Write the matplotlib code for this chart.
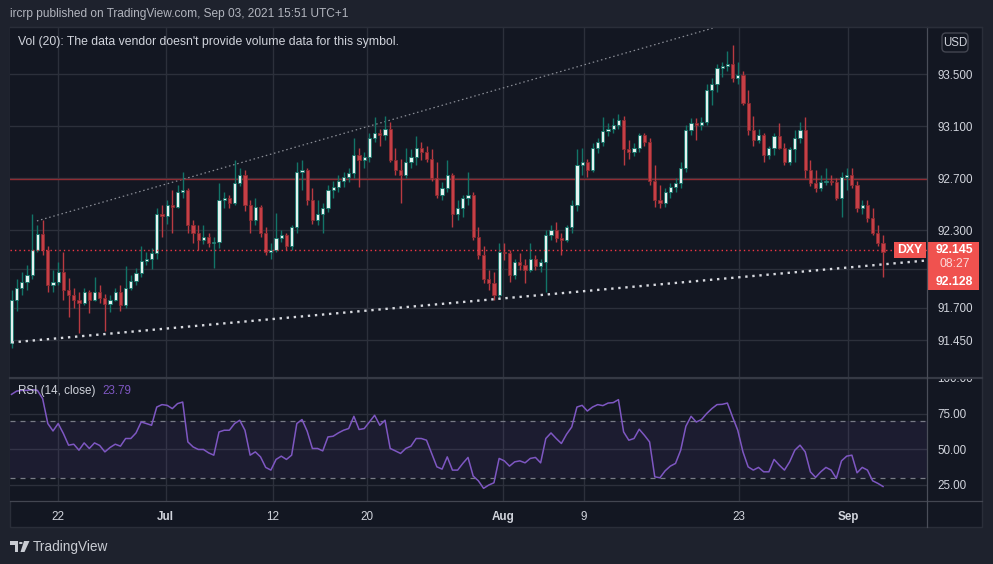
import matplotlib
matplotlib.use("Agg")
import matplotlib.pyplot as plt
import matplotlib.transforms as mtrans
from matplotlib.patches import Rectangle, FancyBboxPatch, Polygon, Circle
from matplotlib.lines import Line2D
import numpy as np

plt.rcParams['font.family'] = ['Liberation Sans', 'DejaVu Sans']

# ---------------- data (DXY, 8h-ish candles, Jun 17 - Sep 3 2021) ----------------
opens = [91.43, 91.76, 91.85, 91.90, 91.95, 92.15, 92.27, 92.15, 91.88, 91.90,
         91.98, 91.84, 91.80, 91.76, 91.74, 91.82, 91.76, 91.82, 91.78, 91.73,
         91.76, 91.82, 91.72, 91.85, 91.91, 91.97, 92.06, 92.08, 92.12, 92.42,
         92.41, 92.49, 92.48, 92.59, 92.61, 92.34, 92.28, 92.22, 92.25, 92.20,
         92.21, 92.53, 92.55, 92.51, 92.66, 92.72, 92.49, 92.38, 92.48, 92.28,
         92.13, 92.15, 92.24, 92.26, 92.18, 92.32, 92.75, 92.76, 92.53, 92.38,
         92.42, 92.47, 92.61, 92.63, 92.68, 92.71, 92.74, 92.88, 92.84, 92.86,
         93.01, 93.05, 93.03, 93.08, 92.84, 92.76, 92.72, 92.82, 92.86, 92.93,
         92.90, 92.85, 92.70, 92.57, 92.62, 92.72, 92.42, 92.47, 92.55, 92.57,
         92.25, 92.11, 91.92, 91.89, 91.80, 92.13, 92.12, 91.95, 92.05, 92.03,
         91.99, 92.08, 92.02, 92.05, 92.26, 92.30, 92.24, 92.22, 92.32, 92.49,
         92.80, 92.82, 92.76, 92.93, 92.98, 93.06, 93.08, 93.11, 93.15, 92.92,
         92.90, 92.93, 93.03, 92.98, 92.68, 92.53, 92.51, 92.59, 92.63, 92.66,
         92.78, 93.07, 93.12, 93.11, 93.13, 93.38, 93.42, 93.55, 93.56, 93.58,
         93.47, 93.49, 93.28, 93.07, 92.99, 93.03, 92.88, 92.93, 93.02, 92.93,
         92.82, 92.92, 93.01, 93.07, 92.76, 92.66, 92.62, 92.67, 92.68, 92.67,
         92.55, 92.71, 92.72, 92.65, 92.47, 92.49, 92.39, 92.28, 92.20]
highs = [91.84, 91.92, 91.98, 92.03, 92.42, 92.34, 92.38, 92.18, 91.99, 92.05,
         92.13, 91.93, 91.85, 91.82, 91.85, 91.84, 91.94, 91.88, 91.81, 91.80,
         91.85, 91.88, 92.02, 91.95, 92.01, 92.18, 92.13, 92.16, 92.47, 92.49,
         92.53, 92.61, 92.65, 92.75, 92.62, 92.38, 92.34, 92.34, 92.28, 92.25,
         92.66, 92.59, 92.57, 92.84, 92.78, 92.76, 92.53, 92.55, 92.49, 92.32,
         92.20, 92.43, 92.30, 92.28, 92.34, 92.82, 92.84, 92.78, 92.62, 92.53,
         92.51, 92.65, 92.68, 92.72, 92.75, 92.78, 93.01, 92.93, 92.90, 93.05,
         93.17, 93.08, 93.18, 93.13, 92.93, 92.85, 92.93, 92.92, 93.02, 92.98,
         92.95, 92.92, 92.82, 92.67, 92.84, 92.74, 92.53, 92.57, 92.75, 92.59,
         92.32, 92.18, 91.99, 91.98, 92.20, 92.20, 92.15, 92.08, 92.12, 92.08,
         92.20, 92.11, 92.08, 92.30, 92.34, 92.36, 92.28, 92.34, 92.53, 92.92,
         92.93, 92.85, 92.97, 93.01, 93.17, 93.12, 93.16, 93.19, 93.18, 92.99,
         92.97, 93.05, 93.05, 93.01, 92.80, 92.65, 92.62, 92.66, 92.70, 92.82,
         93.11, 93.16, 93.16, 93.17, 93.42, 93.47, 93.58, 93.59, 93.68, 93.72,
         93.59, 93.52, 93.38, 93.18, 93.08, 93.05, 92.95, 93.05, 93.12, 92.97,
         92.94, 93.07, 93.13, 93.17, 92.84, 92.76, 92.72, 92.78, 92.72, 92.70,
         92.75, 92.78, 92.78, 92.68, 92.53, 92.53, 92.47, 92.34, 92.26]
lows = [91.39, 91.68, 91.80, 91.84, 91.92, 92.13, 92.11, 91.82, 91.82, 91.88,
        91.76, 91.63, 91.70, 91.51, 91.72, 91.66, 91.75, 91.74, 91.52, 91.67,
        91.75, 91.68, 91.70, 91.84, 91.88, 91.94, 92.03, 92.00, 92.08, 92.25,
        92.35, 92.28, 92.47, 92.55, 92.28, 92.20, 92.15, 92.19, 92.17, 92.01,
        92.16, 92.47, 92.47, 92.49, 92.64, 92.45, 92.28, 92.34, 92.25, 92.11,
        92.08, 92.13, 92.21, 92.15, 92.15, 92.28, 92.61, 92.49, 92.35, 92.34,
        92.28, 92.44, 92.55, 92.59, 92.63, 92.67, 92.70, 92.63, 92.78, 92.82,
        92.98, 92.95, 92.99, 92.82, 92.72, 92.51, 92.70, 92.78, 92.80, 92.84,
        92.82, 92.68, 92.55, 92.53, 92.59, 92.32, 92.38, 92.40, 92.49, 92.22,
        92.08, 91.89, 91.84, 91.76, 91.78, 92.07, 91.90, 91.92, 91.99, 91.89,
        91.98, 91.99, 91.98, 91.82, 92.22, 92.21, 92.11, 92.21, 92.28, 92.45,
        92.72, 92.71, 92.75, 92.89, 92.95, 93.02, 93.05, 93.08, 92.80, 92.85,
        92.87, 92.90, 92.95, 92.65, 92.48, 92.47, 92.48, 92.55, 92.59, 92.62,
        92.75, 93.03, 92.99, 93.07, 93.11, 93.26, 93.36, 93.48, 93.52, 93.44,
        93.42, 93.26, 93.03, 92.95, 92.97, 92.82, 92.85, 92.88, 92.92, 92.80,
        92.80, 92.82, 92.97, 92.70, 92.64, 92.59, 92.60, 92.65, 92.65, 92.53,
        92.40, 92.61, 92.62, 92.44, 92.42, 92.36, 92.26, 92.18, 91.94]
closes = [91.76, 91.85, 91.90, 91.95, 92.15, 92.27, 92.15, 91.88, 91.90, 91.98,
          91.84, 91.80, 91.76, 91.74, 91.82, 91.76, 91.82, 91.78, 91.73, 91.76,
          91.82, 91.72, 91.85, 91.91, 91.97, 92.06, 92.08, 92.12, 92.42, 92.41,
          92.49, 92.48, 92.59, 92.61, 92.34, 92.28, 92.22, 92.25, 92.20, 92.21,
          92.53, 92.55, 92.51, 92.66, 92.72, 92.49, 92.38, 92.48, 92.28, 92.13,
          92.15, 92.24, 92.26, 92.18, 92.32, 92.75, 92.76, 92.53, 92.38, 92.42,
          92.47, 92.61, 92.63, 92.68, 92.71, 92.74, 92.88, 92.84, 92.86, 93.01,
          93.05, 93.03, 93.08, 92.84, 92.76, 92.72, 92.82, 92.86, 92.93, 92.90,
          92.85, 92.70, 92.57, 92.62, 92.72, 92.42, 92.47, 92.55, 92.57, 92.25,
          92.11, 91.92, 91.89, 91.80, 92.13, 92.12, 91.95, 92.05, 92.03, 91.99,
          92.08, 92.02, 92.05, 92.26, 92.30, 92.24, 92.22, 92.32, 92.49, 92.80,
          92.82, 92.76, 92.93, 92.98, 93.06, 93.08, 93.11, 93.15, 92.92, 92.90,
          92.93, 93.03, 92.98, 92.68, 92.53, 92.51, 92.59, 92.63, 92.66, 92.78,
          93.07, 93.12, 93.11, 93.13, 93.38, 93.42, 93.55, 93.56, 93.58, 93.47,
          93.49, 93.28, 93.07, 92.99, 93.03, 92.88, 92.93, 93.02, 92.93, 92.82,
          92.92, 93.01, 93.07, 92.76, 92.66, 92.62, 92.67, 92.68, 92.67, 92.55,
          92.71, 92.72, 92.65, 92.47, 92.49, 92.39, 92.28, 92.20, 92.13]
rsi = [88.5, 90.8, 91.3, 91.3, 91.8, 91.3, 85.5, 68.0, 62.8, 68.0,
       61.0, 52.8, 53.5, 49.3, 54.4, 50.5, 54.4, 52.6, 48.1, 51.2,
       53.5, 52.1, 57.5, 57.5, 61.4, 69.1, 68.0, 66.8, 79.6, 81.3,
       80.8, 78.5, 82.0, 83.1, 55.1, 51.6, 49.8, 49.8, 47.4, 45.8,
       62.1, 63.3, 63.3, 68.0, 70.3, 63.3, 45.8, 48.1, 44.6, 37.2,
       35.3, 42.8, 45.1, 42.8, 45.8, 68.0, 70.8, 62.6, 50.5, 50.5,
       48.8, 58.6, 59.1, 61.4, 63.3, 64.5, 73.1, 63.8, 64.5, 69.1,
       73.8, 66.8, 70.3, 50.5, 48.8, 47.0, 50.5, 52.1, 57.5, 57.5,
       56.3, 47.0, 37.6, 36.0, 44.6, 35.3, 35.3, 40.0, 44.2, 31.1,
       27.8, 22.5, 24.8, 26.4, 43.5, 41.8, 38.1, 41.1, 41.8, 40.4,
       43.5, 44.2, 40.4, 57.5, 61.4, 57.5, 54.0, 60.5, 65.6, 79.6,
       80.8, 76.8, 79.6, 81.3, 80.6, 82.4, 82.7, 84.8, 62.1, 56.3,
       57.5, 64.0, 59.8, 55.1, 30.6, 29.9, 34.8, 38.1, 40.0, 49.3,
       66.1, 73.1, 69.1, 70.8, 75.0, 78.5, 81.3, 81.5, 82.4, 72.6,
       63.3, 48.1, 37.6, 35.3, 37.2, 34.1, 34.1, 42.8, 38.8, 35.3,
       41.1, 49.3, 52.8, 48.1, 34.1, 30.2, 34.1, 37.2, 35.3, 29.5,
       41.8, 45.1, 45.8, 33.4, 37.2, 35.3, 27.8, 26.0, 23.79]

date_labels = ['22', 'Jul', '12', '20', 'Aug', '9', '23', 'Sep']
date_bar_pos = [8.9, 29.7, 50.4, 68.6, 94.8, 110.3, 140.2, 161.3]
month_labels = ['Jul', 'Aug', 'Sep']
price_ticks = [91.45, 91.70, 92.00, 92.30, 92.70, 93.10, 93.50]
price_tick_labels = ['91.450', '91.700', '', '92.300', '92.700', '93.100', '93.500']
rsi_ticks = [25, 50, 75, 100]
rsi_tick_labels = ['25.00', '50.00', '75.00', '100.00']

upper_trend_x = [4.9, 137.0]
upper_trend_y = [92.37, 93.874]
lower_trend_x = [0.0, 176.5]
lower_trend_y = [91.435, 92.066]
level_line = 92.692
last_price = 92.145
bid_price = 92.128
countdown = '08:27'
rsi_last = 23.79
symbol = 'DXY'

# ---------------- layout ----------------
W, H = 993, 564
BG_OUT = '#1e222d'
BG = '#131722'
GRID = '#2c303b'
TXT = '#d1d4dc'
FS = 8.4

fig = plt.figure(figsize=(W / 100, H / 100), dpi=100, facecolor=BG_OUT)


def fr(x0, y0, x1, y1):
    return [x0 / W, 1 - y1 / H, (x1 - x0) / W, (y1 - y0) / H]


def fx(x):
    return x / W


def fy(y):
    return 1 - y / H


# chart frame
fig.patches.append(Rectangle((fx(10), fy(527)), (982 - 10) / W, 500 / H,
                             transform=fig.transFigure, fc=BG, ec='#2a2e39',
                             lw=1, zorder=-5))

ax = fig.add_axes(fr(10, 27, 927, 377))
axr = fig.add_axes(fr(10, 378, 927, 501))
for a in (ax, axr):
    a.set_facecolor(BG)
    for s in a.spines.values():
        s.set_visible(False)

N = len(closes)
x = np.arange(N)
o = np.array(opens)
c = np.array(closes)
hi = np.array(highs)
lo = np.array(lows)
up = c >= o

UP_FACE, UP_EDGE = '#e3f1ef', '#127468'
DN_FACE, DN_EDGE = '#c63f46', '#8a2c32'

wick_cols = [UP_EDGE if u else '#b93a41' for u in up]
ax.vlines(x, lo, hi, colors=wick_cols, lw=1.0, zorder=3)
body_h = np.maximum(np.abs(c - o), 0.004)
ax.bar(x, body_h, bottom=np.minimum(o, c), width=0.62,
       color=[UP_FACE if u else DN_FACE for u in up],
       edgecolor=[UP_EDGE if u else DN_EDGE for u in up], linewidth=0.6, zorder=4)

# drawings
ax.plot(upper_trend_x, upper_trend_y, color='#8a8d96', lw=0.9,
        ls=(0, (1.2, 2.2)), zorder=2)
ax.plot(lower_trend_x, lower_trend_y, color='#d8dae0', lw=1.7,
        ls=(0, (1, 2)), zorder=5, solid_capstyle='butt', dash_capstyle='butt')
ax.axhline(level_line, color='#8e2c33', lw=1.0, zorder=2)
ax.axhline(last_price, color='#f23645', lw=1.0, ls=(0, (1, 2.2)), zorder=5)

ax.set_yticks(price_ticks)
ax.set_yticklabels(price_tick_labels)
ax.yaxis.tick_right()
ax.set_xticks(date_bar_pos)
ax.tick_params(axis='x', length=0, labelbottom=False)
ax.tick_params(axis='y', length=0, pad=7.5, labelcolor=TXT, labelsize=FS)
ax.grid(True, color=GRID, lw=1)
ax.set_axisbelow(True)

# RSI pane
axr.axhspan(30, 70, color='#7e57c2', alpha=0.09, lw=0, zorder=1)
axr.axhline(70, color='#787b86', lw=0.9, ls=(0, (4, 4)), zorder=2)
axr.axhline(30, color='#787b86', lw=0.9, ls=(0, (4, 4)), zorder=2)
axr.plot(x, rsi, color='#7e57c2', lw=1.1, zorder=3)
axr.set_yticks(rsi_ticks)
axr.set_yticklabels(rsi_tick_labels)
axr.yaxis.tick_right()
axr.set_xticks(date_bar_pos)
axr.set_xticklabels(date_labels)
axr.tick_params(axis='y', length=0, pad=7.5, labelcolor=TXT, labelsize=FS)
axr.tick_params(axis='x', length=0, pad=7, labelcolor=TXT, labelsize=FS)
for lab in axr.get_xticklabels():
    if lab.get_text() in month_labels:
        lab.set_fontweight('bold')
axr.grid(True, color=GRID, lw=1)
axr.set_axisbelow(True)

xlim = (-0.29, 176.48)
ax.set_xlim(*xlim)
axr.set_xlim(*xlim)
ax.set_ylim(91.169, 93.862)
axr.set_ylim(13.6, 100.0)

# cover for clipped "100.00"
fig.patches.append(Rectangle((fx(928), fy(377.5)), (981 - 928) / W, 12 / H,
                             transform=fig.transFigure, fc=BG, ec='none', zorder=5))


# frame lines
def hline(y, x0, x1, col, lw):
    fig.lines.append(Line2D([fx(x0), fx(x1)], [fy(y), fy(y)], transform=fig.transFigure,
                            color=col, lw=lw, zorder=6))


def vline(xp, y0, y1, col, lw):
    fig.lines.append(Line2D([fx(xp), fx(xp)], [fy(y0), fy(y1)], transform=fig.transFigure,
                            color=col, lw=lw, zorder=6))


hline(377.5, 10, 982, '#363a45', 1.6)
hline(501, 10, 982, '#434651', 0.9)
vline(927, 27, 527, '#4a4e59', 0.9)
hline(26.5, 10, 982, '#2a2e39', 1.0)

# price labels on the right
blend = mtrans.blended_transform_factory(ax.transAxes, ax.transData)
tr_last = fig.dpi_scale_trans + mtrans.ScaledTranslation(1.0, last_price, blend)
ax.add_patch(Rectangle((-0.33, -0.078), 0.32, 0.16, transform=tr_last, fc='#ef5350',
                       ec='none', clip_on=False, zorder=10))
ax.text(-0.17, 0.0, symbol, transform=tr_last, ha='center', va='center', color='white',
        fontsize=8.8, fontweight='bold', zorder=11, clip_on=False)
ax.add_patch(Rectangle((0.0, -0.398), 0.52, 0.48, transform=tr_last, fc='#f0524f',
                       ec='none', clip_on=False, zorder=10))
ax.text(0.275, 0.0, f'{last_price:.3f}', transform=tr_last, ha='center', va='center',
        color='white', fontsize=8.8, fontweight='bold', zorder=11, clip_on=False)
ax.text(0.275, -0.143, countdown, transform=tr_last, ha='center', va='center',
        color='#fbd9d9', fontsize=8.8, zorder=11, clip_on=False)
ax.text(0.275, -0.315, f'{bid_price:.3f}', transform=tr_last, ha='center', va='center',
        color='white', fontsize=8.8, fontweight='bold', zorder=11, clip_on=False)

tr_top = fig.dpi_scale_trans + mtrans.ScaledTranslation(1.0, 1.0, ax.transAxes)
ax.add_patch(FancyBboxPatch((0.15, -0.25), 0.26, 0.19,
                            boxstyle='round,pad=0,rounding_size=0.04',
                            transform=tr_top, fc='none', ec='#434651', lw=1.0,
                            clip_on=False, zorder=10))
ax.text(0.28, -0.155, 'USD', transform=tr_top, ha='center', va='center', color=TXT,
        fontsize=8.3, zorder=11, clip_on=False)

# texts
fig.text(fx(10), fy(14), 'ircrp published on TradingView.com, Sep 03, 2021 15:51 UTC+1',
         color='#b2b5be', fontsize=8.6, va='center', ha='left')
fig.text(fx(18), fy(42), "Vol (20): The data vendor doesn't provide volume data for this symbol.",
         color=TXT, fontsize=8.8, va='center', ha='left')
fig.text(fx(18), fy(391), 'RSI (14, close)', color=TXT, fontsize=8.4, va='center', ha='left')
fig.text(fx(102), fy(391), f'{rsi_last:.2f}', color='#7e57c2', fontsize=8.4,
         va='center', ha='left')

# footer logo + name
LOGO = '#c9ccd3'
fig.patches.append(Polygon([(fx(10), fy(541)), (fx(18), fy(541)), (fx(18), fy(552)),
                            (fx(14.5), fy(552)), (fx(14.5), fy(545)), (fx(10), fy(545))],
                           closed=True, transform=fig.transFigure, fc=LOGO, ec='none'))
fig.patches.append(Circle((fx(20.8), fy(543)), 1.9 / W, transform=fig.transFigure,
                          fc=LOGO, ec='none'))
fig.patches.append(Polygon([(fx(24), fy(541)), (fx(29.5), fy(541)), (fx(24.5), fy(552)),
                            (fx(20.5), fy(552))],
                           closed=True, transform=fig.transFigure, fc=LOGO, ec='none'))
fig.text(fx(33), fy(547), 'TradingView', color=LOGO, fontsize=9.8, va='center', ha='left')

fig.savefig('out.png', dpi=100, facecolor=BG_OUT)
